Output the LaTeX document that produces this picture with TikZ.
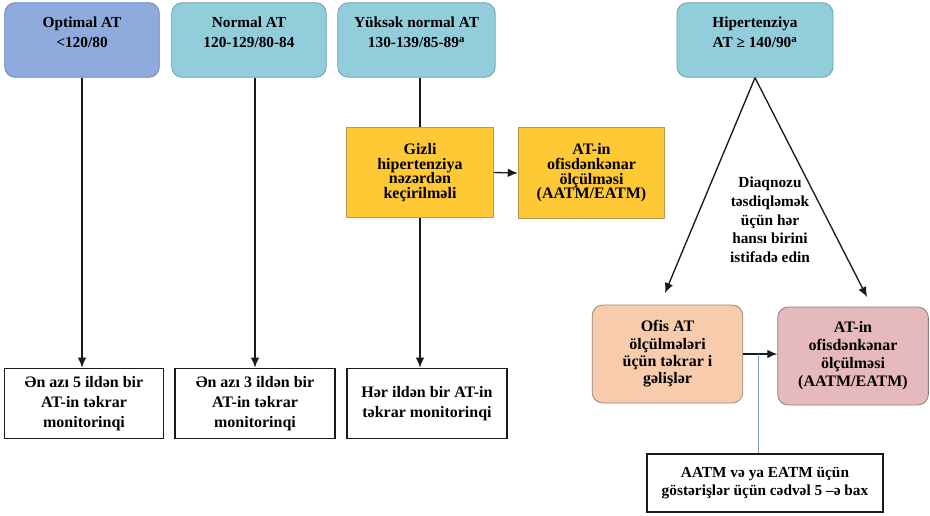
\documentclass[tikz,border=0pt]{standalone}
\usepackage{fontspec}
\setmainfont{Liberation Serif}
\usetikzlibrary{arrows.meta,positioning}
\definecolor{Lilac}{HTML}{8FAADC}
\definecolor{LilacEdge}{HTML}{6F86B4}
\definecolor{Sky}{HTML}{92CDDC}
\definecolor{SkyEdge}{HTML}{6E9FAD}
\definecolor{Amber}{HTML}{FFC935}
\definecolor{AmberEdge}{HTML}{B39A55}
\definecolor{Peach}{HTML}{F8CBAD}
\definecolor{PeachEdge}{HTML}{97887E}
\definecolor{Rose}{HTML}{E6B9BC}
\definecolor{RoseEdge}{HTML}{8E7B7D}
\definecolor{Steel}{HTML}{7F9DB3}
\definecolor{Ink}{HTML}{1A1A1A}
\tikzset{
  flowarrow/.style={-{Latex[length=7.5pt,width=6.5pt]}, line width=1pt, draw=Ink},
  flowline/.style={line width=1pt, draw=Ink},
  steelline/.style={line width=0.6pt, draw=Steel},
  stagenode/.style={rounded corners=8pt, draw=SkyEdge, fill=Sky, line width=0.6pt, align=center, font=\rmfamily\bfseries\fontsize{11.5}{15}\selectfont, minimum width=116pt, minimum height=56pt},
  checknode/.style={draw=AmberEdge, fill=Amber, line width=0.6pt, align=center, font=\rmfamily\bfseries\fontsize{12}{11}\selectfont, minimum width=110pt, minimum height=68pt},
  softnode/.style={rounded corners=8pt, line width=0.6pt, align=center, font=\rmfamily\bfseries\fontsize{12}{13}\selectfont, minimum width=113pt, minimum height=73.5pt},
  monitornode/.style={draw=Ink, fill=white, line width=0.9pt, align=center, font=\rmfamily\bfseries\fontsize{12}{15}\selectfont, minimum width=119pt, minimum height=53pt},
  labeltiny/.style={align=center, font=\rmfamily\bfseries\fontsize{11.5}{14}\selectfont},
}
\begin{document}
\begin{tikzpicture}[x=0.75pt,y=-0.75pt]
\path[use as bounding box] (0,0) rectangle (930,515);

% top row
\node[stagenode,fill=Lilac,draw=LilacEdge] (opt) at (82,40) {Optimal AT\\<120/80\\[-4pt]};
\node[stagenode] (norm) at (249,40) {Normal AT\\120-129/80-84\\[-4pt]};
\node[stagenode,minimum width=118pt] (high) at (416.5,40) {Yüksək normal AT\\130-139/85-89\textsuperscript{a}\\[-4pt]};
\node[stagenode,minimum width=117pt] (hyp) at (755,40) {Hipertenziya\\AT ≥ 140/90\textsuperscript{a}\\[-4pt]};

% masked hypertension
\node[checknode] (masked) at (420,172.5) {Gizli\\hipertenziya\\nəzərdən\\keçirilməli};
\node[checknode] (outoff) at (591.5,173) {AT-in\\ofisdənkənar\\ölçülməsi\\(AATM/EATM)};

% monitoring
\node[monitornode] (mon5) at (84,403.5) {Ən azı 5 ildən bir\\AT-in təkrar\\monitorinqi};
\node[monitornode,minimum width=120pt] (mon3) at (255,403.5) {Ən azı 3 ildən bir\\AT-in təkrar\\monitorinqi};
\node[monitornode,minimum width=120pt] (mon1) at (427,403.5) {Hər ildən bir AT-in\\təkrar monitorinqi};

% confirmation
\node[labeltiny] (hint) at (770,220) {Diaqnozu\\təsdiqləmək\\üçün hər\\hansı birini\\istifadə edin};
\node[softnode,fill=Peach,draw=PeachEdge] (office) at (667.5,354) {Ofis AT\\ölçülmələri\\üçün təkrar i\\gəlişlər};
\node[softnode,fill=Rose,draw=RoseEdge,font=\rmfamily\bfseries\fontsize{12}{13.5}\selectfont] (outoff2) at (853,356) {AT-in\\ofisdənkənar\\ölçülməsi\\(AATM/EATM)};
\node[monitornode,minimum width=177pt,minimum height=43.5pt,font=\rmfamily\bfseries\fontsize{11.5}{14}\selectfont] (table) at (765,483) {AATM və ya EATM üçün\\göstərişlər üçün cədvəl 5 –ə bax};

\coordinate (officetip) at (665,293);
\coordinate (rosetip) at (867,297);
\coordinate (split) at (758,354);

\draw[flowarrow] (opt) -- (opt |- mon5.north);
\draw[flowarrow] (mon3.north |- norm.south) -- (mon3.north);
\draw[flowline] (masked.north |- high.south) -- (masked.north);
\draw[flowarrow] (masked.east) -- (outoff.west);
\draw[flowarrow] (masked.south) -- (masked.south |- mon1.north);
\draw[flowarrow] (hyp.south) -- (officetip);
\draw[flowarrow] (hyp.south) -- (rosetip);
\draw[flowarrow] (office.east) -- (office.east -| outoff2.west);
\draw[steelline] (split) -- (split |- table.north);
\end{tikzpicture}
\end{document}
